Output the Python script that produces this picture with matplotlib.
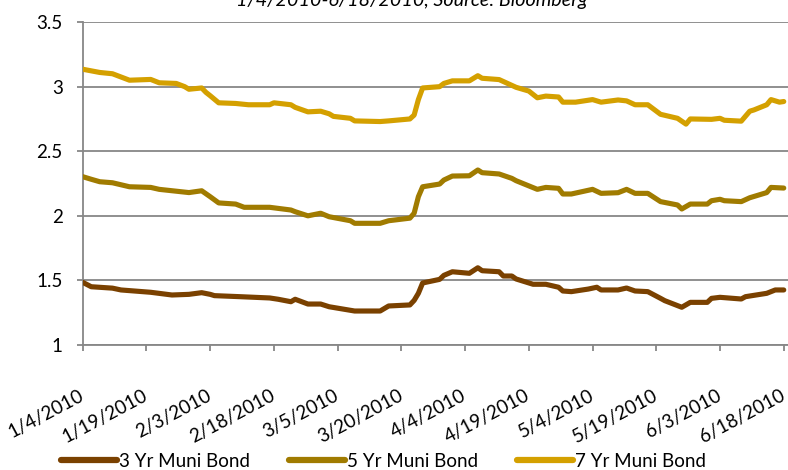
import matplotlib
matplotlib.use('Agg')
import matplotlib.pyplot as plt
import pandas as pd

# muni bond yields, Jan 4 - Jun 18 2010
dates_3yr = ['1/4', '1/6', '1/11', '1/13', '1/20', '1/25', '1/29', '2/1', '2/3', '2/4',
             '2/10', '2/17', '2/19', '2/22', '2/23', '2/26', '3/1', '3/3', '3/9', '3/15',
             '3/17', '3/22', '3/23', '3/24', '3/25', '3/29', '3/30', '4/1', '4/5', '4/7',
             '4/8', '4/12', '4/13', '4/15', '4/16', '4/20', '4/23', '4/26', '4/27', '4/29',
             '5/3', '5/5', '5/6', '5/10', '5/12', '5/14', '5/17', '5/20', '5/21', '5/25',
             '5/27', '5/31', '6/1', '6/3', '6/8', '6/9', '6/14', '6/16', '6/18']
yld_3yr = [1.485, 1.451, 1.44, 1.426, 1.408, 1.387, 1.392, 1.405, 1.392, 1.382,
           1.374, 1.364, 1.354, 1.335, 1.354, 1.317, 1.317, 1.296, 1.263, 1.263,
           1.302, 1.31, 1.345, 1.40, 1.48, 1.508, 1.539, 1.567, 1.555, 1.598,
           1.575, 1.567, 1.534, 1.534, 1.511, 1.47, 1.47, 1.447, 1.418, 1.413,
           1.433, 1.447, 1.426, 1.426, 1.441, 1.418, 1.413, 1.361, 1.343, 1.292,
           1.33, 1.33, 1.361, 1.369, 1.356, 1.374, 1.40, 1.426, 1.426]

dates_5yr = ['1/4', '1/6', '1/8', '1/11', '1/15', '1/20', '1/22', '1/29', '2/1', '2/3',
             '2/5', '2/9', '2/11', '2/17', '2/22', '2/23', '2/26', '3/1', '3/3', '3/8',
             '3/9', '3/15', '3/17', '3/22', '3/23', '3/24', '3/25', '3/29', '3/30', '4/1',
             '4/5', '4/7', '4/8', '4/12', '4/15', '4/16', '4/21', '4/23', '4/26', '4/27',
             '4/29', '5/4', '5/6', '5/10', '5/12', '5/14', '5/17', '5/20', '5/24', '5/25',
             '5/27', '5/31', '6/1', '6/3', '6/4', '6/8', '6/10', '6/14', '6/15', '6/18']
yld_5yr = [2.303, 2.283, 2.264, 2.256, 2.225, 2.22, 2.205, 2.18, 2.194, 2.148,
           2.10, 2.091, 2.066, 2.066, 2.045, 2.032, 2.0, 2.02, 1.993, 1.962,
           1.942, 1.942, 1.962, 1.982, 2.02, 2.148, 2.225, 2.246, 2.277, 2.308,
           2.31, 2.355, 2.334, 2.324, 2.29, 2.272, 2.205, 2.22, 2.213, 2.169,
           2.169, 2.205, 2.174, 2.179, 2.205, 2.174, 2.174, 2.11, 2.084, 2.053,
           2.091, 2.091, 2.117, 2.128, 2.117, 2.11, 2.14, 2.18, 2.22, 2.215]

dates_7yr = ['1/4', '1/8', '1/11', '1/15', '1/20', '1/22', '1/26', '1/28', '1/29', '2/1',
             '2/2', '2/3', '2/5', '2/9', '2/12', '2/17', '2/18', '2/22', '2/23', '2/26',
             '3/1', '3/3', '3/4', '3/8', '3/9', '3/15', '3/17', '3/22', '3/23', '3/24',
             '3/25', '3/29', '3/30', '4/1', '4/5', '4/7', '4/8', '4/12', '4/14', '4/16',
             '4/19', '4/21', '4/23', '4/26', '4/27', '4/30', '5/4', '5/6', '5/10', '5/12',
             '5/14', '5/17', '5/20', '5/24', '5/26', '5/27', '6/1', '6/3', '6/4', '6/8',
             '6/10', '6/11', '6/14', '6/15', '6/17', '6/18']
yld_7yr = [3.135, 3.11, 3.10, 3.05, 3.056, 3.03, 3.025, 3.0, 2.98, 2.99,
           2.956, 2.93, 2.875, 2.87, 2.86, 2.86, 2.875, 2.86, 2.84, 2.805,
           2.81, 2.79, 2.77, 2.755, 2.735, 2.73, 2.735, 2.75, 2.78, 2.90,
           2.99, 3.0, 3.025, 3.045, 3.045, 3.085, 3.065, 3.055, 3.025, 2.995,
           2.966, 2.914, 2.927, 2.92, 2.88, 2.88, 2.90, 2.88, 2.897, 2.89,
           2.86, 2.86, 2.786, 2.755, 2.71, 2.75, 2.747, 2.755, 2.74, 2.733,
           2.81, 2.82, 2.86, 2.90, 2.88, 2.885]

series_names = ['3 Yr Muni Bond', '5 Yr Muni Bond', '7 Yr Muni Bond']
series_colors = ['#7a4100', '#a07b00', '#d4a000']
tick_dates = ['1/4', '1/19', '2/3', '2/18', '3/5', '3/20', '4/4', '4/19',
              '5/4', '5/19', '6/3', '6/18']


def to_dates(md):
    return pd.to_datetime([d + '/2010' for d in md], format='%m/%d/%Y')


plt.rcParams['font.family'] = ['Lato', 'DejaVu Sans']
grid_col = '#878787'
fsize = 13.5

fig = plt.figure(figsize=(7.88, 4.70), dpi=100)
ax = fig.add_axes([0.105, 0.266, 0.895, 0.687])

for dts, ylds, name, col in zip([dates_3yr, dates_5yr, dates_7yr],
                                [yld_3yr, yld_5yr, yld_7yr],
                                series_names, series_colors):
    ax.plot(to_dates(dts), ylds, color=col, lw=3.7, label=name,
            solid_capstyle='round', solid_joinstyle='round', zorder=3)

ax.set_ylim(1, 3.5)
ax.set_yticks([1, 1.5, 2, 2.5, 3, 3.5])
ax.set_yticklabels(['1', '1.5', '2', '2.5', '3', '3.5'])
ax.set_xlim(pd.Timestamp('2010-01-04'), pd.Timestamp('2010-06-19'))
ticks = to_dates(tick_dates)
ax.set_xticks(ticks)
ax.set_xticklabels([t.strftime('%-m/%-d/%Y') for t in ticks],
                   rotation=28, ha='right', va='center', rotation_mode='anchor')

ax.grid(axis='y', color=grid_col, lw=1.3, zorder=0)
for s in ['top', 'right']:
    ax.spines[s].set_visible(False)
for s in ['left', 'bottom']:
    ax.spines[s].set_color(grid_col)
    ax.spines[s].set_linewidth(1.3)
ax.tick_params(axis='both', colors=grid_col, length=4.5, width=1.3,
               labelcolor='black', labelsize=fsize)
ax.tick_params(axis='x', pad=31, labelsize=13.6)
ax.tick_params(axis='y', pad=10)

fig.text(0.522, 0.987, '1/4/2010-6/18/2010, Source: Bloomberg',
         style='italic', fontsize=14.2, ha='center', va='baseline')

leg = fig.legend(loc='lower center', bbox_to_anchor=(0.487, -0.035), ncol=3,
                 frameon=False, fontsize=fsize, handlelength=2.95,
                 handletextpad=0.12, columnspacing=2.1)
for h in leg.get_lines():
    h.set_linewidth(4.5)

fig.savefig('out.png', dpi=100)
